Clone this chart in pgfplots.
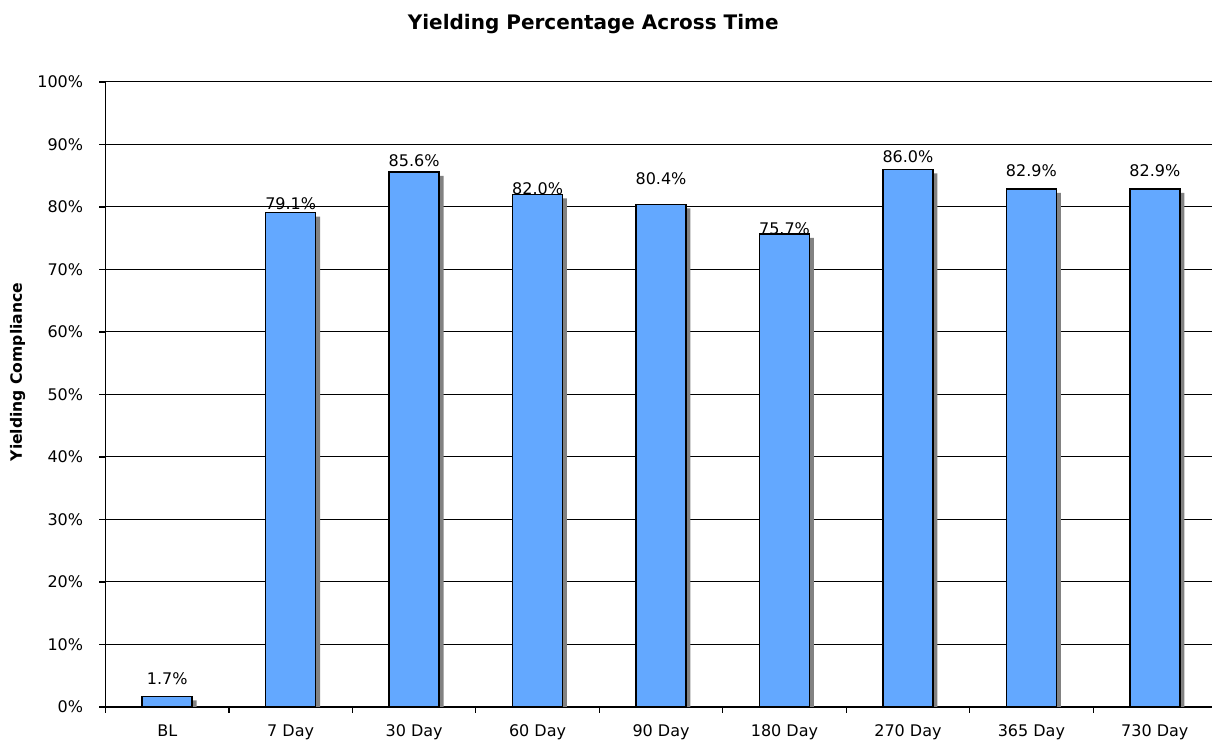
\documentclass[border=0pt]{standalone}
\usepackage{pgfplots}
\pgfplotsset{compat=1.18}
\usepackage{fontspec}
\setmainfont{DejaVu Sans}
\definecolor{barblue}{RGB}{99,168,255}
\definecolor{shadowgray}{RGB}{130,130,130}
\begin{document}
\begin{tikzpicture}
\useasboundingbox (0,0) rectangle (606pt,372.5pt);
\begin{axis}[
  at={(52.75pt,19pt)}, anchor=south west,
  scale only axis, width=553.25pt, height=312.5pt,
  xmin=-0.5, xmax=8.463, ymin=0, ymax=100,
  axis x line*=bottom, axis y line*=left,
  axis line style={black, line width=0.6pt, -},
  xtick={0,...,8},
  xticklabels={BL,7 Day,30 Day,60 Day,90 Day,180 Day,270 Day,365 Day,730 Day},
  minor xtick={-0.5,0.5,1.5,2.5,3.5,4.5,5.5,6.5,7.5},
  major x tick style={draw=none},
  minor x tick style={black, line width=0.6pt},
  minor tick length=3pt,
  ytick={0,10,...,100},
  yticklabels={0\%,10\%,20\%,30\%,40\%,50\%,60\%,70\%,80\%,90\%,100\%},
  y tick style={black, line width=0.6pt},
  major tick length=3pt,
  tick align=outside,
  ymajorgrids, grid style={black, line width=0.5pt},
  tick label style={font=\fontsize{8}{9.6}\selectfont},
  yticklabel style={anchor=east, inner sep=0pt, xshift=-8pt},
  xticklabel style={anchor=base, inner sep=0pt, yshift=-11.5pt},
  title={\textbf{Yielding Percentage Across Time}},
  title style={at={(axis description cs:0.4408,1.0736)}, anchor=center, font=\fontsize{10}{12}\selectfont},
  ylabel={\textbf{Yielding Compliance}},
  ylabel style={at={(axis description cs:-0.0795,0.536)}, anchor=center, font=\fontsize{7.8}{9}\selectfont},
  ybar, bar width=25pt,
  clip=true,
]
\addplot[bar shift=2.2pt, fill=shadowgray, draw=none, yshift=-2pt]
  coordinates {(0,1.7) (1,79.1) (2,85.6) (3,82.0) (4,80.4) (5,75.7) (6,86.0) (7,82.9) (8,82.9)};
\addplot[bar shift=0pt, fill=barblue, draw=black, line width=0.75pt]
  coordinates {(0,1.7) (1,79.1) (2,85.6) (3,82.0) (4,80.4) (5,75.7) (6,86.0) (7,82.9) (8,82.9)};
\addplot[bar shift=0pt, fill=none, draw=none,
  nodes near coords, point meta=explicit symbolic,
  every node near coord/.style={anchor=center, inner sep=0pt, font=\fontsize{8}{9.6}\selectfont, black}]
  table[meta=lab] {
x y lab
0 4.5 1.7\%
1 80.6 79.1\%
2 87.4 85.6\%
3 83.0 82.0\%
4 84.6 80.4\%
5 76.6 75.7\%
6 88.0 86.0\%
7 85.8 82.9\%
8 85.8 82.9\%
};
\end{axis}
\end{tikzpicture}
\end{document}
